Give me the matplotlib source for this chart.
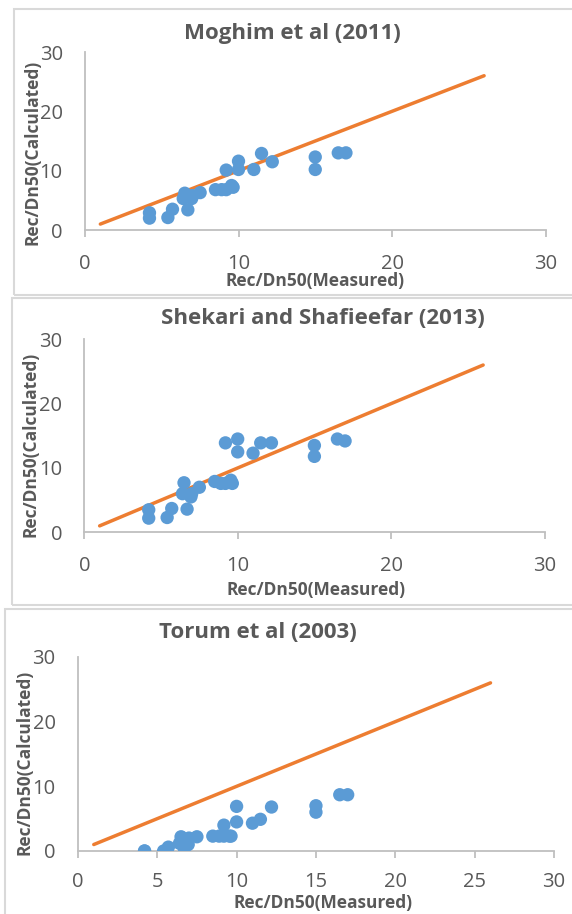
import matplotlib
matplotlib.use("Agg")
import matplotlib.pyplot as plt
from matplotlib.patches import Rectangle

# ---- data ----
measured = [4.2, 4.2, 5.4, 5.7, 6.4, 6.5, 6.7, 6.95, 7.0, 7.5, 8.5, 8.9, 9.2, 9.2,
            9.55, 9.65, 10.0, 10.0, 11.0, 11.5, 12.2, 15.0, 15.0, 16.5, 17.0]
moghim = [2.9, 2.0, 2.1, 3.5, 5.3, 6.2, 3.4, 5.3, 5.8, 6.3, 6.8, 6.8, 6.8, 10.1,
          7.5, 7.2, 11.6, 10.2, 10.2, 12.9, 11.5, 12.3, 10.2, 13.0, 13.0]
shekari = [3.5, 2.2, 2.3, 3.7, 6.0, 7.7, 3.6, 5.5, 6.0, 7.0, 7.9, 7.6, 7.6, 13.9,
           8.1, 7.6, 14.5, 12.5, 12.3, 13.9, 13.9, 13.5, 11.8, 14.5, 14.2]
torum = [0.0, 0.0, 0.0, 0.6, 1.2, 2.2, 0.4, 1.0, 2.0, 2.2, 2.3, 2.3, 2.3, 4.0,
         2.3, 2.3, 6.9, 4.5, 4.3, 4.9, 6.8, 7.0, 6.0, 8.7, 8.7]
line_x = [1, 26]
line_y = [1, 26]
titles = ["Moghim et al (2011)", "Shekari and Shafieefar (2013)", "Torum et al (2003)"]
xticks_list = [[0, 10, 20, 30], [0, 10, 20, 30], [0, 5, 10, 15, 20, 25, 30]]
yticks = [0, 10, 20, 30]
xlabel = "Rec/Dn50(Measured)"
ylabel = "Rec/Dn50(Calculated)"

W, H = 572, 914
fig = plt.figure(figsize=(W / 100, H / 100), dpi=100)
fig.patch.set_facecolor("white")

FONT = "Open Sans"
BLUE = "#5B9BD5"
ORANGE = "#ED7D31"
GRID = "#BFBFBF"
TXT = "#595959"

# axes rectangles in pixel coords (left, right, y0 pixel, y30 pixel)
axes_px = [(85, 545.5, 230, 52), (84.3, 544.5, 532.3, 339.3), (77.9, 554, 851, 657)]
# panel borders (x0, y0top, x1, y1bottom)
borders = [(14, 9, 575, 295), (12, 298, 575, 605), (5, 609, 575, 918)]
title_pos = [(292, 33), (323, 318), (258, 632)]
ylab_pos = [(33, 152), (31, 444), (25, 762)]
xlab_pos = [(315, 281), (316, 590), (323, 903)]
xpads = [12, 12, 10]
series = [moghim, shekari, torum]

for (x0, yt, x1, yb) in borders:
    fig.patches.append(Rectangle((x0 / W, 1 - yb / H), (x1 - x0) / W, (yb - yt) / H,
                                 transform=fig.transFigure, fill=False,
                                 edgecolor="#D9D9D9", linewidth=1.5))

for i in range(3):
    l, r, yb, ytop = axes_px[i]
    ax = fig.add_axes([l / W, 1 - yb / H, (r - l) / W, (yb - ytop) / H])
    ax.set_facecolor("none")
    ax.plot(line_x, line_y, color=ORANGE, lw=2.5, solid_capstyle="round", zorder=2)
    ax.scatter(measured, series[i], s=92, color=BLUE, edgecolors="none", zorder=3)
    ax.set_xlim(0, 30)
    ax.set_ylim(0, 30)
    ax.set_xticks(xticks_list[i])
    ax.set_yticks(yticks)
    for s in ["top", "right"]:
        ax.spines[s].set_visible(False)
    for s in ["left", "bottom"]:
        ax.spines[s].set_color(GRID)
        ax.spines[s].set_linewidth(1.3)
    ax.tick_params(axis="x", length=5, width=1.3, color=GRID, pad=xpads[i],
                   labelsize=14.5, labelcolor=TXT, direction="out")
    ax.tick_params(axis="y", length=0, pad=16, labelsize=14.5, labelcolor=TXT)
    for lab in ax.get_xticklabels() + ax.get_yticklabels():
        lab.set_fontfamily(FONT)

    tx, ty = title_pos[i]
    fig.text(tx / W, 1 - ty / H, titles[i], ha="center", va="center",
             fontsize=16, fontweight="bold", color=TXT, family=FONT)
    lx, ly = ylab_pos[i]
    fig.text(lx / W, 1 - ly / H, ylabel, ha="center", va="center", rotation=90,
             fontsize=12.5, fontweight="bold", color=TXT, family=FONT)
    bx, by = xlab_pos[i]
    fig.text(bx / W, 1 - by / H, xlabel, ha="center", va="center",
             fontsize=12.5, fontweight="bold", color=TXT, family=FONT)

fig.savefig("out.png", dpi=100, facecolor="white")
